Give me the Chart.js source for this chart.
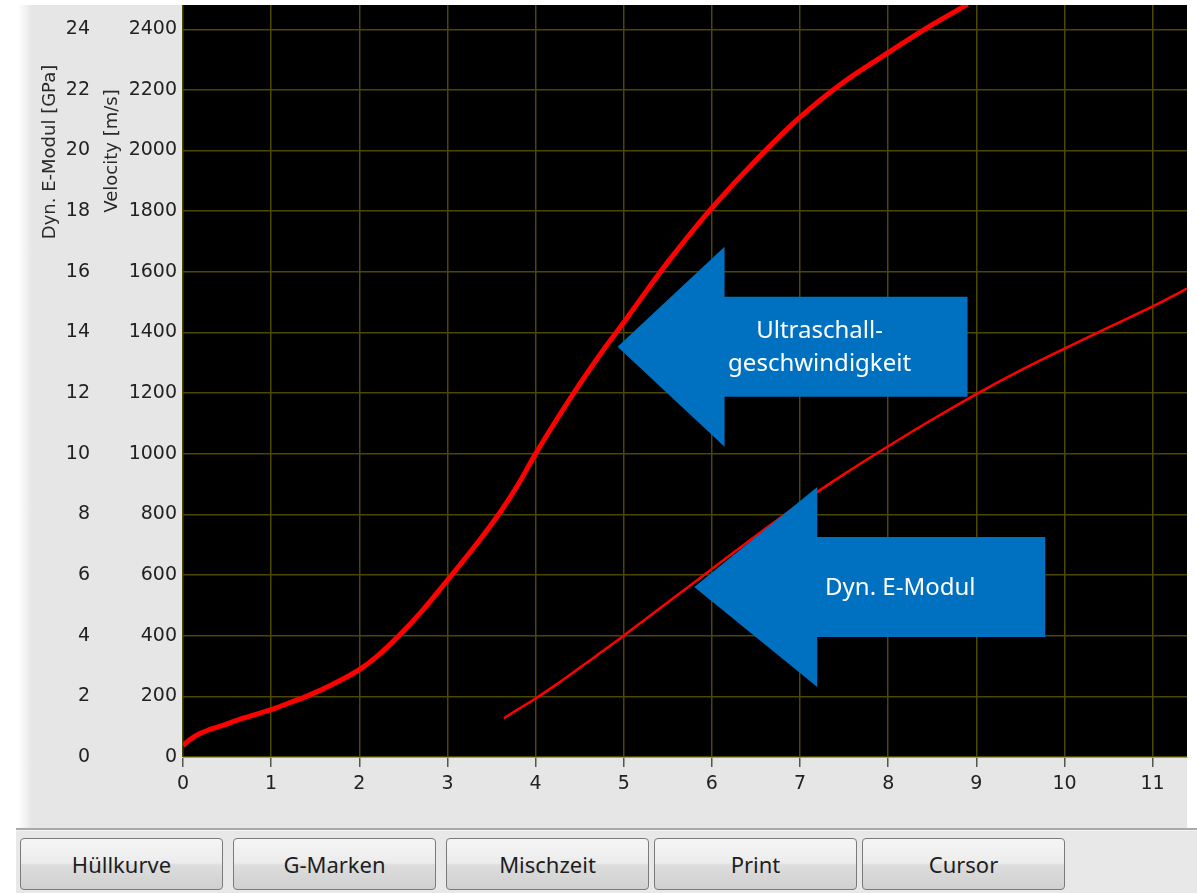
<!DOCTYPE html>
<html>
<head>
<meta charset="utf-8">
<script src="https://cdn.jsdelivr.net/npm/chart.js@4/dist/chart.umd.min.js"></script>
<style>
  html, body { margin:0; padding:0; background:#fff; width:1197px; height:893px; overflow:hidden; }
  #fade { position:absolute; left:0; top:5px; width:34px; height:823px; background:linear-gradient(to right,#fff 0px,#fff 18px,#e6e6e6 32px); }
  #panel { position:absolute; left:32px; top:5px; width:1155px; height:823px; background:#e6e6e6; }
  #sep { position:absolute; left:16px; top:828px; width:1181px; height:2px; background:#a9a9a9; border-bottom:1px solid #f4f4f4; }
  #bottom { position:absolute; left:16px; top:831px; width:1181px; height:62px; background:#e8e8e8; }
  canvas { position:absolute; left:0; top:0; }
  .btn { position:absolute; top:838px; height:52px; width:203px; box-sizing:border-box;
    border:1px solid #7a7a7a; border-radius:4px;
    background:linear-gradient(#f5f5f5 0%, #ececec 48%, #dddddd 52%, #d0d0d0 100%);
    font:22px "Noto Sans", sans-serif; color:#1e1e1e; text-align:center; line-height:50px; }
</style>
</head>
<body>
<div id="fade"></div>
<div id="panel"></div>
<div id="sep"></div>
<div id="bottom"></div>
<canvas id="c" width="1197" height="828"></canvas>
<script>
// x axis (time) ticks and the two left axes
const xTicks = [0,1,2,3,4,5,6,7,8,9,10,11];
const velocityTicks = [0,200,400,600,800,1000,1200,1400,1600,1800,2000,2200,2400];
const emodTicks = [0,2,4,6,8,10,12,14,16,18,20,22,24];

// Velocity [m/s]
const velX = [0, 0.08, 0.18, 0.3, 0.45, 0.6, 0.8, 1.0, 1.2, 1.4, 1.7, 2.0, 2.2, 2.44, 2.7, 3.0, 3.35, 3.6, 3.8, 4.0, 4.25, 4.5, 4.75, 5.0, 5.25, 5.5, 5.75, 6.0, 6.5, 7.0, 7.5, 8.0, 8.5, 8.9];
const velY = [38, 58, 76, 90, 104, 120, 138, 156, 178, 200, 240, 288, 332, 397, 478, 583, 710, 808, 898, 1000, 1118, 1230, 1335, 1433, 1534, 1632, 1724, 1811, 1968, 2110, 2227, 2323, 2415, 2482];

// Dyn. E-Modul [GPa], thin curve
const emodX = [3.64, 3.8, 4.0, 4.25, 4.5, 4.75, 5.0, 5.25, 5.5, 5.75, 6.0, 6.5, 7.0, 7.5, 8.0, 8.5, 9.0, 9.5, 10.0, 10.5, 11.0, 11.39];
const emodY = [1.28, 1.57, 1.93, 2.42, 2.94, 3.47, 4.0, 4.55, 5.1, 5.65, 6.2, 7.3, 8.35, 9.33, 10.25, 11.13, 11.97, 12.75, 13.47, 14.17, 14.86, 15.45];

const buttonLabels = ["Hüllkurve", "G-Marken", "Mischzeit", "Print", "Cursor"];
const buttonLeft = [20, 233, 446, 654, 862];

// annotation arrows: tip in data units (x, velocity)
const arrowText = [["Ultraschall-", "geschwindigkeit"], ["Dyn. E-Modul"]];
const arrowTipX = [4.93, 5.8];
const arrowTipY = [1353, 561];

buttonLabels.forEach((t, i) => {
  const b = document.createElement("div");
  b.className = "btn";
  b.style.left = buttonLeft[i] + "px";
  b.textContent = t;
  document.body.appendChild(b);
});

const tickFont = { family: "DejaVu Sans", size: 19 };
const gridCol = "#4d4800";
const noPad = s => { s.paddingTop = 0; s.paddingBottom = 0; s.paddingLeft = 0; s.paddingRight = 0; };

const plotBg = {
  id: "plotBg",
  beforeDraw(chart) {
    const a = chart.chartArea, ctx = chart.ctx;
    ctx.save();
    ctx.fillStyle = "#000";
    ctx.fillRect(a.left, a.top, a.right - a.left, a.bottom - a.top);
    ctx.restore();
  }
};

const axisTitles = {
  id: "axisTitles",
  afterDraw(chart) {
    const ctx = chart.ctx, top = chart.chartArea.top;
    ctx.save();
    ctx.fillStyle = "#2a2a2a";
    ctx.font = '18px "DejaVu Sans"';
    ctx.textAlign = "center";
    ctx.textBaseline = "middle";
    [["Dyn. E-Modul [GPa]", 50, top + 147], ["Velocity [m/s]", 112, top + 146]].forEach(([t, x, y]) => {
      ctx.save();
      ctx.translate(x, y);
      ctx.rotate(-Math.PI / 2);
      ctx.fillText(t, 0, 0);
      ctx.restore();
    });
    ctx.restore();
  }
};

const arrows = {
  id: "arrows",
  afterDatasetsDraw(chart) {
    const ctx = chart.ctx, sx = chart.scales.x, sv = chart.scales.v;
    const head = [107, 123], len = [350, 351];
    arrowText.forEach((lines, i) => {
      const tx = sx.getPixelForValue(arrowTipX[i]);
      const ty = sv.getPixelForValue(arrowTipY[i]);
      const hb = tx + head[i];
      ctx.save();
      ctx.fillStyle = "#0070c0";
      ctx.beginPath();
      ctx.moveTo(tx, ty);
      ctx.lineTo(hb, ty - 100);
      ctx.lineTo(hb, ty - 50);
      ctx.lineTo(tx + len[i], ty - 50);
      ctx.lineTo(tx + len[i], ty + 50);
      ctx.lineTo(hb, ty + 50);
      ctx.lineTo(hb, ty + 100);
      ctx.closePath();
      ctx.fill();
      ctx.fillStyle = "#fff";
      ctx.font = '24px "Noto Sans"';
      ctx.textAlign = "center";
      ctx.textBaseline = "middle";
      const cx = tx + (i === 0 ? 202 : 206);
      const lh = 33;
      lines.forEach((l, k) => {
        ctx.fillText(l, cx, ty + 1 + (k - (lines.length - 1) / 2) * lh);
      });
      ctx.restore();
    });
  }
};

new Chart(document.getElementById("c"), {
  type: "line",
  data: {
    datasets: [
      { label: "Velocity", yAxisID: "v", data: velX.map((x, i) => ({ x, y: velY[i] })),
        borderColor: "#ff0000", borderWidth: 5, pointRadius: 0, cubicInterpolationMode: "monotone" },
      { label: "Dyn. E-Modul", yAxisID: "g", data: emodX.map((x, i) => ({ x, y: emodY[i] })),
        borderColor: "#ff0000", borderWidth: 2.5, pointRadius: 0, cubicInterpolationMode: "monotone" }
    ]
  },
  options: {
    responsive: false,
    devicePixelRatio: 1,
    animation: false,
    layout: { padding: { top: 5, right: 10, left: 0, bottom: 0 } },
    plugins: { legend: { display: false }, tooltip: { enabled: false } },
    scales: {
      x: {
        type: "linear", min: 0, max: 11.39,
        afterBuildTicks: s => { s.ticks = xTicks.map(v => ({ value: v })); },
        afterFit: s => { s.height = 71; noPad(s); },
        grid: { color: gridCol, lineWidth: 1.5, drawTicks: true, tickLength: 10, tickColor: "#555", tickWidth: 1.5 },
        border: { display: true, color: "#9a9a9a", width: 1 },
        ticks: { font: tickFont, color: "#222", padding: 6, maxRotation: 0, callback: v => String(v) }
      },
      g: {
        position: "left", weight: 2, min: 0, max: 24.8,
        afterBuildTicks: s => { s.ticks = emodTicks.map(v => ({ value: v })); },
        afterFit: s => { s.width = 98; noPad(s); },
        grid: { display: false, drawTicks: false },
        border: { display: false },
        ticks: { font: tickFont, color: "#222", padding: 8, callback: v => String(v) }
      },
      v: {
        position: "left", weight: 1, min: 0, max: 2480,
        afterBuildTicks: s => { s.ticks = velocityTicks.map(v => ({ value: v })); },
        afterFit: s => { s.width = 85; noPad(s); },
        grid: { color: gridCol, lineWidth: 1.5, drawTicks: false },
        border: { display: false },
        ticks: { font: tickFont, color: "#222", padding: 6, callback: v => String(v) }
      }
    }
  },
  plugins: [plotBg, axisTitles, arrows]
});
</script>
</body>
</html>
